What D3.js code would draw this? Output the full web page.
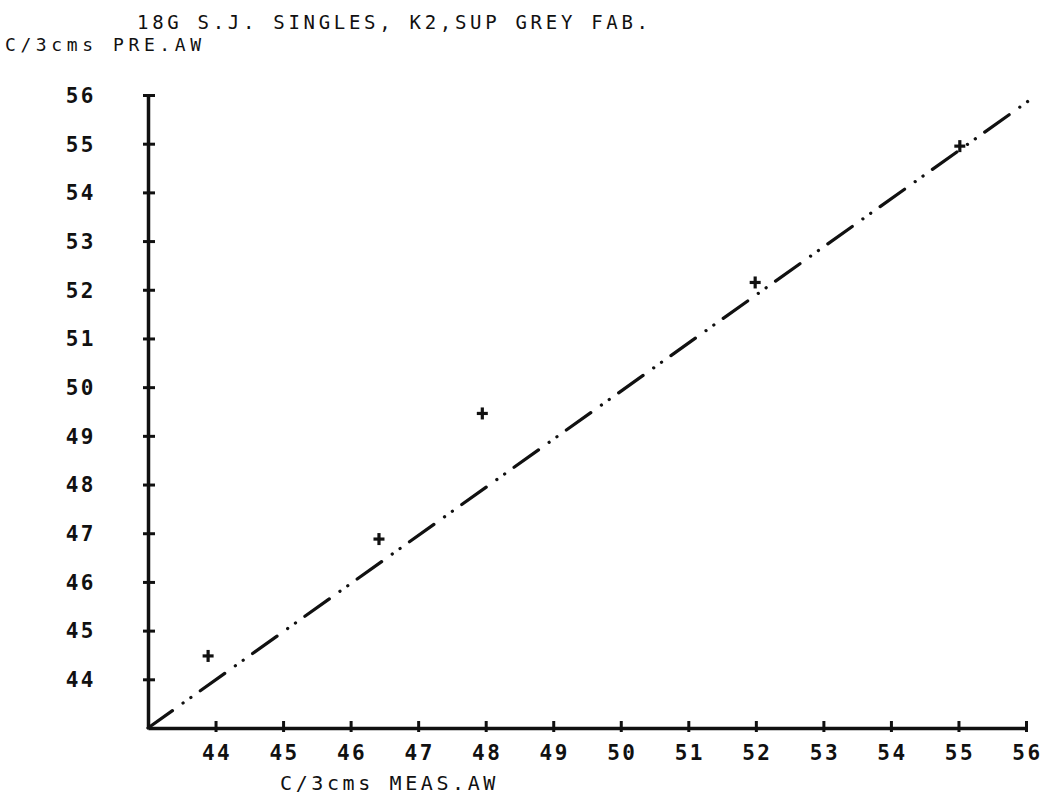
<!DOCTYPE html>
<html>
<head>
<meta charset="utf-8">
<script src="https://cdn.jsdelivr.net/npm/d3@7"></script>
<style>
  body { margin: 0; background: #fff; }
  svg { display: block; }
  text { font-family: 'DejaVu Sans Mono', monospace; fill: #111; }
</style>
</head>
<body>
<svg id="chart" width="1060" height="798"></svg>
<script>
var measured = [43.89, 46.42, 47.95, 51.99, 55.02];
var predicted = [44.48, 46.88, 49.46, 52.15, 54.95];

// reference line (predicted = measured)
var refX = [43, 56.12];
var refY = [43, 55.96];

var xTicks = [44, 45, 46, 47, 48, 49, 50, 51, 52, 53, 54, 55, 56];
var yTicks = [44, 45, 46, 47, 48, 49, 50, 51, 52, 53, 54, 55, 56];

var title = '18G S.J. SINGLES, K2,SUP GREY FAB.';
var xTitle = 'C/3cms MEAS.AW';
var yTitle = 'C/3cms PRE.AW';

var svg = d3.select('#chart');

var x = d3.scaleLinear().domain([43, 56]).range([148, 1026]);
var y = d3.scaleLinear().domain([43, 56]).range([728, 95]);

// Axes
var xAxis = svg.append('g')
  .attr('transform', 'translate(0,' + y(43) + ')')
  .call(d3.axisBottom(x).tickValues(xTicks).tickSize(0).tickSizeOuter(0));

xAxis.select('.domain').attr('stroke', '#111').attr('stroke-width', 3.5);
xAxis.selectAll('.tick line')
  .attr('y1', -7).attr('y2', 4)
  .attr('stroke', '#111').attr('stroke-width', 3);
xAxis.selectAll('.tick text')
  .attr('y', 32).attr('dy', 0)
  .attr('dx', 1)
  .style('font-size', '21px')
  .style('font-weight', 'bold')
  .style('letter-spacing', '2.5px')
  .style('font-family', "'DejaVu Sans Mono', monospace")
  .attr('fill', '#111');

var yAxis = svg.append('g')
  .attr('transform', 'translate(' + x(43) + ',0)')
  .call(d3.axisLeft(y).tickValues(yTicks).tickSize(0).tickSizeOuter(0));

yAxis.select('.domain').attr('stroke', '#111').attr('stroke-width', 3.5);
yAxis.selectAll('.tick line')
  .attr('x1', -5).attr('x2', 7)
  .attr('stroke', '#111').attr('stroke-width', 3);
yAxis.selectAll('.tick text')
  .attr('x', -52).attr('dy', '0.35em')
  .style('font-size', '21px')
  .style('font-weight', 'bold')
  .style('letter-spacing', '2.5px')
  .style('font-family', "'DejaVu Sans Mono', monospace")
  .attr('fill', '#111');

// Reference line, dash-dot-dot
var line = d3.line()
  .x(function(d) { return x(d[0]); })
  .y(function(d) { return y(d[1]); });

svg.append('path')
  .datum(d3.zip(refX, refY))
  .attr('d', line)
  .attr('fill', 'none')
  .attr('stroke', '#111')
  .attr('stroke-width', 3.2)
  .attr('stroke-linecap', 'round')
  .attr('stroke-dasharray', '30 13 0.1 9.5 0.1 11.5');

// Data points as plus markers
var pts = svg.append('g').selectAll('g')
  .data(d3.zip(measured, predicted))
  .join('g')
  .attr('transform', function(d) { return 'translate(' + x(d[0]) + ',' + y(d[1]) + ')'; });

pts.append('line').attr('x1', -5.5).attr('x2', 5.5).attr('y1', 0).attr('y2', 0)
  .attr('stroke', '#111').attr('stroke-width', 3.2);
pts.append('line').attr('x1', 0).attr('x2', 0).attr('y1', -6).attr('y2', 6)
  .attr('stroke', '#111').attr('stroke-width', 3.2);

// Titles
svg.append('text')
  .attr('x', 137).attr('y', 29)
  .style('font-size', '19px')
  .style('letter-spacing', '3.7px')
  .text(title);

svg.append('text')
  .attr('x', 5).attr('y', 51)
  .style('font-size', '18px')
  .style('letter-spacing', '4.6px')
  .text(yTitle);

svg.append('text')
  .attr('x', 280).attr('y', 790)
  .style('font-size', '20px')
  .style('letter-spacing', '3.6px')
  .text(xTitle);
</script>
</body>
</html>
